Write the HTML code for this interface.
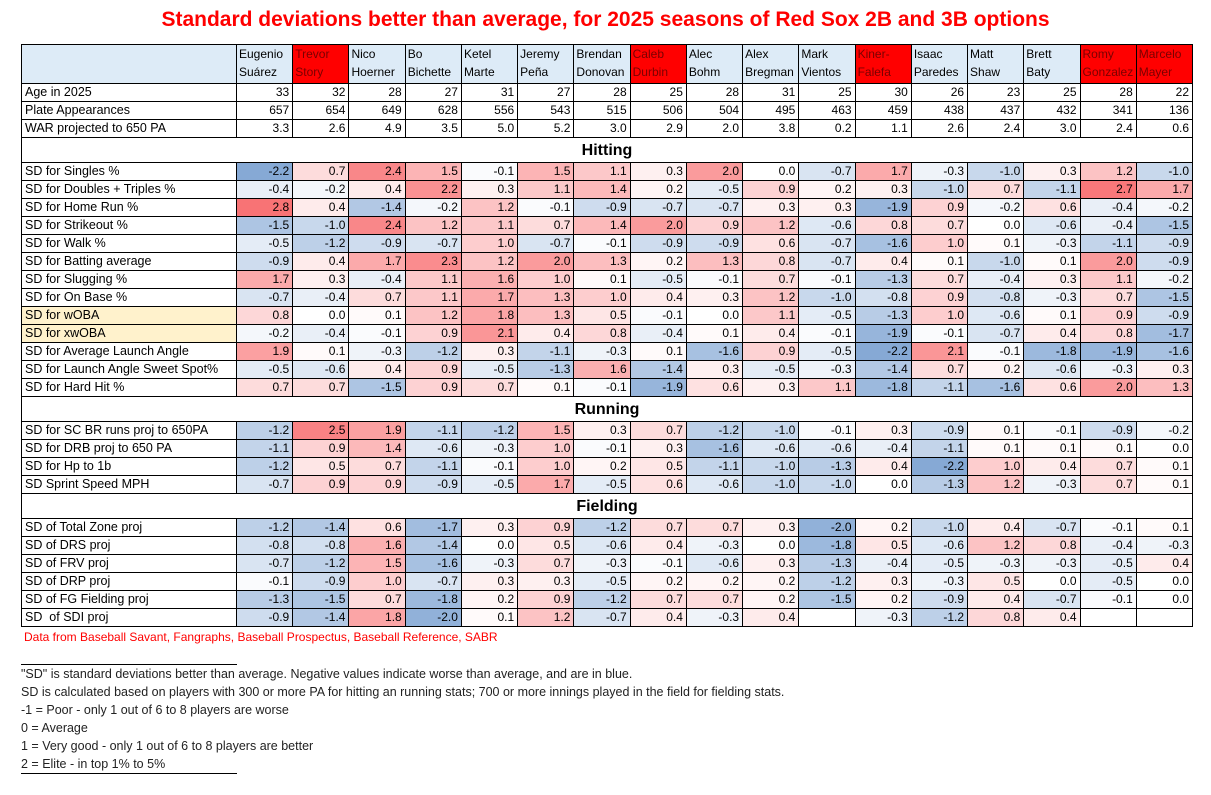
<!DOCTYPE html>
<html><head><meta charset="utf-8">
<style>
body{margin:0;background:#fff;width:1211px;height:795px;position:relative;font-family:"Liberation Sans",sans-serif;overflow:hidden}
#title{position:absolute;top:8px;left:0;width:1211px;text-align:center;color:#f00;font-weight:bold;font-size:21px}
table{position:absolute;left:21px;top:44px;width:1172px;border-collapse:collapse;table-layout:fixed;font-size:12px;color:#000}
td{border:1px solid #000;padding:0 3px;height:17px;line-height:17px;text-align:right;white-space:nowrap;overflow:hidden}
td.l{text-align:left;font-size:12.5px}
tr.h td{background:#ddebf7;text-align:left;line-height:18px;height:38px;vertical-align:top;padding:0 2px}
tr.h td.r{background:#f00;color:#7a0000}
tr.s td{height:24px;text-align:center;font-weight:bold;font-size:16px;border-left:1px solid #000;border-right:1px solid #000}
td.y{background:#fff2cc}
#src{position:absolute;left:24px;top:630px;color:#f00;font-size:12px}
#notes{position:absolute;left:21px;top:665px;font-size:12.5px;line-height:18px;color:#222}
.ln{position:absolute;left:21px;width:216px;border-top:1.5px solid #000}
</style></head><body>
<div id="title">Standard deviations better than average, for 2025 seasons of Red Sox 2B and 3B options</div>
<table id="t">
<colgroup><col style="width:215px"><col span="17"></colgroup>
<tr class="h"><td></td><td>Eugenio<br>Suárez</td><td class="r">Trevor<br>Story</td><td>Nico<br>Hoerner</td><td>Bo<br>Bichette</td><td>Ketel<br>Marte</td><td>Jeremy<br>Peña</td><td>Brendan<br>Donovan</td><td class="r">Caleb<br>Durbin</td><td>Alec<br>Bohm</td><td>Alex<br>Bregman</td><td>Mark<br>Vientos</td><td class="r">Kiner-<br>Falefa</td><td>Isaac<br>Paredes</td><td>Matt<br>Shaw</td><td>Brett<br>Baty</td><td class="r">Romy<br>Gonzalez</td><td class="r">Marcelo<br>Mayer</td></tr>
<tr><td class="l">Age in 2025</td><td>33</td><td>32</td><td>28</td><td>27</td><td>31</td><td>27</td><td>28</td><td>25</td><td>28</td><td>31</td><td>25</td><td>30</td><td>26</td><td>23</td><td>25</td><td>28</td><td>22</td></tr>
<tr><td class="l">Plate Appearances</td><td>657</td><td>654</td><td>649</td><td>628</td><td>556</td><td>543</td><td>515</td><td>506</td><td>504</td><td>495</td><td>463</td><td>459</td><td>438</td><td>437</td><td>432</td><td>341</td><td>136</td></tr>
<tr><td class="l">WAR projected to 650 PA</td><td>3.3</td><td>2.6</td><td>4.9</td><td>3.5</td><td>5.0</td><td>5.2</td><td>3.0</td><td>2.9</td><td>2.0</td><td>3.8</td><td>0.2</td><td>1.1</td><td>2.6</td><td>2.4</td><td>3.0</td><td>2.4</td><td>0.6</td></tr>
<tr class="s"><td colspan="18">Hitting</td></tr>
<tr class="c"><td class="l">SD for Singles %</td><td>-2.2</td><td>0.7</td><td>2.4</td><td>1.5</td><td>-0.1</td><td>1.5</td><td>1.1</td><td>0.3</td><td>2.0</td><td>0.0</td><td>-0.7</td><td>1.7</td><td>-0.3</td><td>-1.0</td><td>0.3</td><td>1.2</td><td>-1.0</td></tr>
<tr class="c"><td class="l">SD for Doubles + Triples %</td><td>-0.4</td><td>-0.2</td><td>0.4</td><td>2.2</td><td>0.3</td><td>1.1</td><td>1.4</td><td>0.2</td><td>-0.5</td><td>0.9</td><td>0.2</td><td>0.3</td><td>-1.0</td><td>0.7</td><td>-1.1</td><td>2.7</td><td>1.7</td></tr>
<tr class="c"><td class="l">SD for Home Run %</td><td>2.8</td><td>0.4</td><td>-1.4</td><td>-0.2</td><td>1.2</td><td>-0.1</td><td>-0.9</td><td>-0.7</td><td>-0.7</td><td>0.3</td><td>0.3</td><td>-1.9</td><td>0.9</td><td>-0.2</td><td>0.6</td><td>-0.4</td><td>-0.2</td></tr>
<tr class="c"><td class="l">SD for Strikeout %</td><td>-1.5</td><td>-1.0</td><td>2.4</td><td>1.2</td><td>1.1</td><td>0.7</td><td>1.4</td><td>2.0</td><td>0.9</td><td>1.2</td><td>-0.6</td><td>0.8</td><td>0.7</td><td>0.0</td><td>-0.6</td><td>-0.4</td><td>-1.5</td></tr>
<tr class="c"><td class="l">SD for Walk %</td><td>-0.5</td><td>-1.2</td><td>-0.9</td><td>-0.7</td><td>1.0</td><td>-0.7</td><td>-0.1</td><td>-0.9</td><td>-0.9</td><td>0.6</td><td>-0.7</td><td>-1.6</td><td>1.0</td><td>0.1</td><td>-0.3</td><td>-1.1</td><td>-0.9</td></tr>
<tr class="c"><td class="l">SD for Batting average</td><td>-0.9</td><td>0.4</td><td>1.7</td><td>2.3</td><td>1.2</td><td>2.0</td><td>1.3</td><td>0.2</td><td>1.3</td><td>0.8</td><td>-0.7</td><td>0.4</td><td>0.1</td><td>-1.0</td><td>0.1</td><td>2.0</td><td>-0.9</td></tr>
<tr class="c"><td class="l">SD for Slugging %</td><td>1.7</td><td>0.3</td><td>-0.4</td><td>1.1</td><td>1.6</td><td>1.0</td><td>0.1</td><td>-0.5</td><td>-0.1</td><td>0.7</td><td>-0.1</td><td>-1.3</td><td>0.7</td><td>-0.4</td><td>0.3</td><td>1.1</td><td>-0.2</td></tr>
<tr class="c"><td class="l">SD for On Base %</td><td>-0.7</td><td>-0.4</td><td>0.7</td><td>1.1</td><td>1.7</td><td>1.3</td><td>1.0</td><td>0.4</td><td>0.3</td><td>1.2</td><td>-1.0</td><td>-0.8</td><td>0.9</td><td>-0.8</td><td>-0.3</td><td>0.7</td><td>-1.5</td></tr>
<tr class="c"><td class="l y">SD for wOBA</td><td>0.8</td><td>0.0</td><td>0.1</td><td>1.2</td><td>1.8</td><td>1.3</td><td>0.5</td><td>-0.1</td><td>0.0</td><td>1.1</td><td>-0.5</td><td>-1.3</td><td>1.0</td><td>-0.6</td><td>0.1</td><td>0.9</td><td>-0.9</td></tr>
<tr class="c"><td class="l y">SD for xwOBA</td><td>-0.2</td><td>-0.4</td><td>-0.1</td><td>0.9</td><td>2.1</td><td>0.4</td><td>0.8</td><td>-0.4</td><td>0.1</td><td>0.4</td><td>-0.1</td><td>-1.9</td><td>-0.1</td><td>-0.7</td><td>0.4</td><td>0.8</td><td>-1.7</td></tr>
<tr class="c"><td class="l">SD for Average Launch Angle</td><td>1.9</td><td>0.1</td><td>-0.3</td><td>-1.2</td><td>0.3</td><td>-1.1</td><td>-0.3</td><td>0.1</td><td>-1.6</td><td>0.9</td><td>-0.5</td><td>-2.2</td><td>2.1</td><td>-0.1</td><td>-1.8</td><td>-1.9</td><td>-1.6</td></tr>
<tr class="c"><td class="l">SD for Launch Angle Sweet Spot%</td><td>-0.5</td><td>-0.6</td><td>0.4</td><td>0.9</td><td>-0.5</td><td>-1.3</td><td>1.6</td><td>-1.4</td><td>0.3</td><td>-0.5</td><td>-0.3</td><td>-1.4</td><td>0.7</td><td>0.2</td><td>-0.6</td><td>-0.3</td><td>0.3</td></tr>
<tr class="c"><td class="l">SD for Hard Hit %</td><td>0.7</td><td>0.7</td><td>-1.5</td><td>0.9</td><td>0.7</td><td>0.1</td><td>-0.1</td><td>-1.9</td><td>0.6</td><td>0.3</td><td>1.1</td><td>-1.8</td><td>-1.1</td><td>-1.6</td><td>0.6</td><td>2.0</td><td>1.3</td></tr>
<tr class="s"><td colspan="18">Running</td></tr>
<tr class="c"><td class="l">SD for SC BR runs proj to 650PA</td><td>-1.2</td><td>2.5</td><td>1.9</td><td>-1.1</td><td>-1.2</td><td>1.5</td><td>0.3</td><td>0.7</td><td>-1.2</td><td>-1.0</td><td>-0.1</td><td>0.3</td><td>-0.9</td><td>0.1</td><td>-0.1</td><td>-0.9</td><td>-0.2</td></tr>
<tr class="c"><td class="l">SD for DRB proj to 650 PA</td><td>-1.1</td><td>0.9</td><td>1.4</td><td>-0.6</td><td>-0.3</td><td>1.0</td><td>-0.1</td><td>0.3</td><td>-1.6</td><td>-0.6</td><td>-0.6</td><td>-0.4</td><td>-1.1</td><td>0.1</td><td>0.1</td><td>0.1</td><td>0.0</td></tr>
<tr class="c"><td class="l">SD for Hp to 1b</td><td>-1.2</td><td>0.5</td><td>0.7</td><td>-1.1</td><td>-0.1</td><td>1.0</td><td>0.2</td><td>0.5</td><td>-1.1</td><td>-1.0</td><td>-1.3</td><td>0.4</td><td>-2.2</td><td>1.0</td><td>0.4</td><td>0.7</td><td>0.1</td></tr>
<tr class="c"><td class="l">SD Sprint Speed MPH</td><td>-0.7</td><td>0.9</td><td>0.9</td><td>-0.9</td><td>-0.5</td><td>1.7</td><td>-0.5</td><td>0.6</td><td>-0.6</td><td>-1.0</td><td>-1.0</td><td>0.0</td><td>-1.3</td><td>1.2</td><td>-0.3</td><td>0.7</td><td>0.1</td></tr>
<tr class="s"><td colspan="18">Fielding</td></tr>
<tr class="c"><td class="l">SD of Total Zone proj</td><td>-1.2</td><td>-1.4</td><td>0.6</td><td>-1.7</td><td>0.3</td><td>0.9</td><td>-1.2</td><td>0.7</td><td>0.7</td><td>0.3</td><td>-2.0</td><td>0.2</td><td>-1.0</td><td>0.4</td><td>-0.7</td><td>-0.1</td><td>0.1</td></tr>
<tr class="c"><td class="l">SD of DRS proj</td><td>-0.8</td><td>-0.8</td><td>1.6</td><td>-1.4</td><td>0.0</td><td>0.5</td><td>-0.6</td><td>0.4</td><td>-0.3</td><td>0.0</td><td>-1.8</td><td>0.5</td><td>-0.6</td><td>1.2</td><td>0.8</td><td>-0.4</td><td>-0.3</td></tr>
<tr class="c"><td class="l">SD of FRV proj</td><td>-0.7</td><td>-1.2</td><td>1.5</td><td>-1.6</td><td>-0.3</td><td>0.7</td><td>-0.3</td><td>-0.1</td><td>-0.6</td><td>0.3</td><td>-1.3</td><td>-0.4</td><td>-0.5</td><td>-0.3</td><td>-0.3</td><td>-0.5</td><td>0.4</td></tr>
<tr class="c"><td class="l">SD of DRP proj</td><td>-0.1</td><td>-0.9</td><td>1.0</td><td>-0.7</td><td>0.3</td><td>0.3</td><td>-0.5</td><td>0.2</td><td>0.2</td><td>0.2</td><td>-1.2</td><td>0.3</td><td>-0.3</td><td>0.5</td><td>0.0</td><td>-0.5</td><td>0.0</td></tr>
<tr class="c"><td class="l">SD of FG Fielding proj</td><td>-1.3</td><td>-1.5</td><td>0.7</td><td>-1.8</td><td>0.2</td><td>0.9</td><td>-1.2</td><td>0.7</td><td>0.7</td><td>0.2</td><td>-1.5</td><td>0.2</td><td>-0.9</td><td>0.4</td><td>-0.7</td><td>-0.1</td><td>0.0</td></tr>
<tr class="c"><td class="l">SD &nbsp;of SDI proj</td><td>-0.9</td><td>-1.4</td><td>1.8</td><td>-2.0</td><td>0.1</td><td>1.2</td><td>-0.7</td><td>0.4</td><td>-0.3</td><td>0.4</td><td></td><td>-0.3</td><td>-1.2</td><td>0.8</td><td>0.4</td><td></td><td></td></tr>
</table>
<div id="src">Data from Baseball Savant, Fangraphs, Baseball Prospectus, Baseball Reference, SABR</div>
<div class="ln" style="top:664px"></div>
<div id="notes">"SD" is standard deviations better than average. Negative values indicate worse than average, and are in blue.<br>SD is calculated based on players with 300 or more PA for hitting an running stats; 700 or more innings played in the field for fielding stats.<br>-1 = Poor - only 1 out of 6 to 8 players are worse<br>0 = Average<br>1 = Very good - only 1 out of 6 to 8 players are better<br>2 = Elite - in top 1% to 5%</div>
<div class="ln" style="top:773px"></div>
<script>
document.querySelectorAll('tr.c td:not(.l)').forEach(function(td){
 var s=td.textContent.trim(); if(s==='')return; var v=parseFloat(s);
 var t=Math.min(Math.abs(v)/3,1), e=v>=0?[248,105,107]:[90,138,198];
 var c=e.map(function(x){return Math.round(255-(255-x)*t)});
 td.style.background='rgb('+c.join(',')+')';
});
</script>
</body></html>
